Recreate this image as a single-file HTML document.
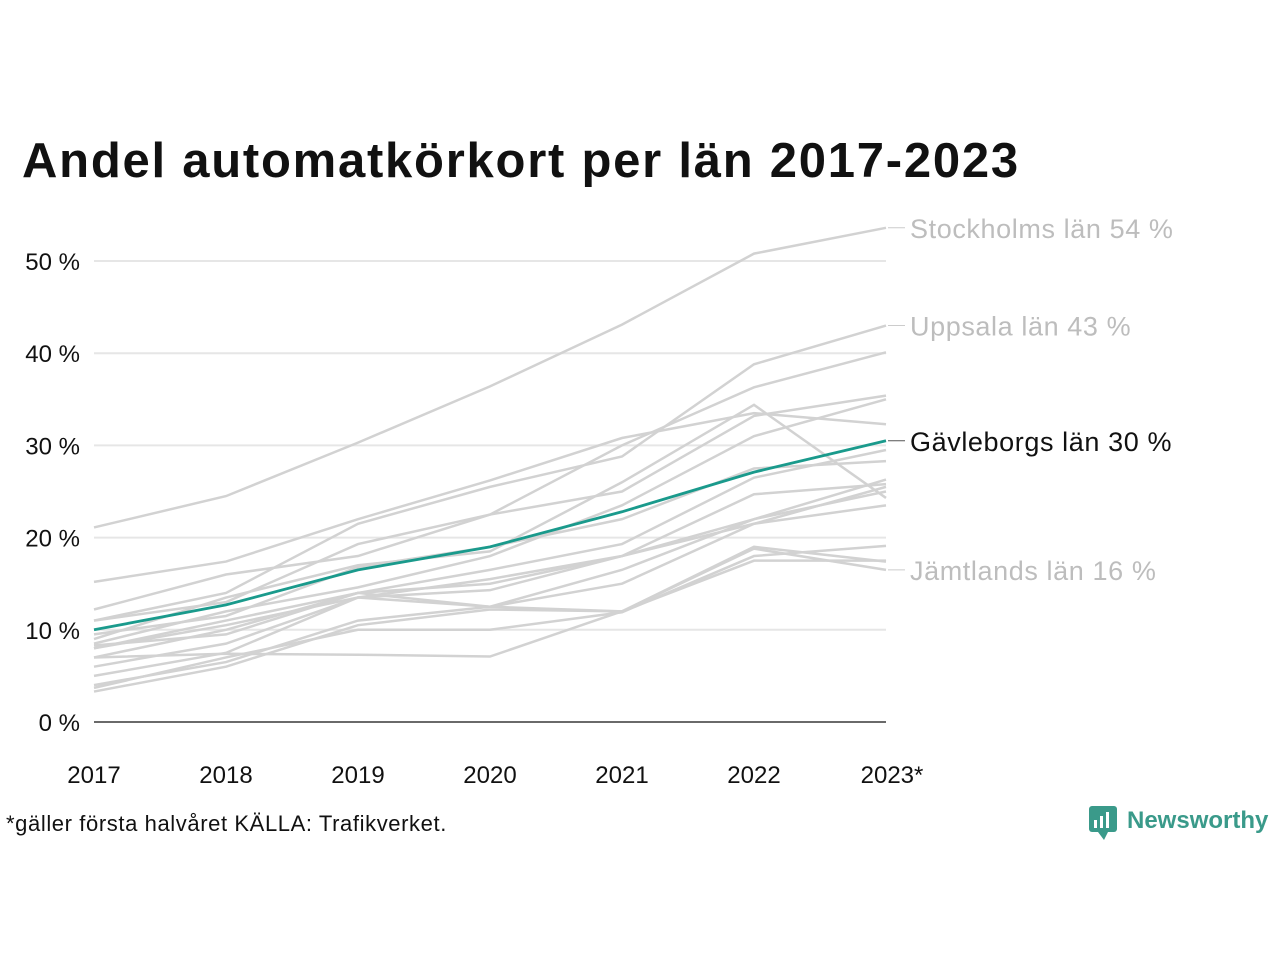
<!DOCTYPE html>
<html><head><meta charset="utf-8">
<style>
body{margin:0;background:#fff;width:1280px;height:960px;overflow:hidden;font-family:"Liberation Sans",sans-serif;}
svg text{font-family:"Liberation Sans",sans-serif;}
</style></head>
<body>
<svg id="chart" width="1280" height="960" xmlns="http://www.w3.org/2000/svg">
<text x="22" y="177" font-size="49" font-weight="bold" letter-spacing="1.75" fill="#111">Andel automatkörkort per län 2017-2023</text>
<g id="grid"></g>
<g id="lines"></g>
<g id="labels"></g>
<text x="6" y="831" font-size="22" letter-spacing="0.6" fill="#111">*gäller första halvåret KÄLLA: Trafikverket.</text>
<g>
<rect x="1089" y="806" width="28" height="26" rx="3" fill="#3a9a8a"/>
<polygon points="1098,832 1104,840 1108,832" fill="#3a9a8a"/>
<rect x="1094" y="820" width="3" height="8" fill="#fff"/><rect x="1100" y="816" width="3" height="12" fill="#fff"/><rect x="1106" y="812" width="3" height="16" fill="#fff"/>
<text x="1127" y="828" font-size="24" font-weight="bold" fill="#3a9a8a">Newsworthy</text>
</g>
</svg>
<script>
const years=["2017","2018","2019","2020","2021","2022","2023*"];
const yTicks=[0,10,20,30,40,50];
const stockholm=[21.1,24.5,30.3,36.4,43.1,50.8,53.6];
const uppsala=[11,14,21.5,25.5,28.8,38.8,43];
const gavleborg=[10,12.7,16.5,19,22.8,27.1,30.5];
const jamtland=[7,7.4,7.3,7.1,12,18.8,16.5];
const other1=[12.2,16,18,22.5,30,36.3,40.1];
const other2=[15.2,17.4,22,26.2,30.8,33.5,32.3];
const other3=[9,13.5,17,18.5,26,34.4,24.3];
const other4=[11,13,19.3,22.5,25,33.2,35.4];
const other5=[8.5,12,14.6,18,23.5,31,35];
const other6=[9.5,11.5,16.8,19,22,27.5,28.3];
const other7=[8,11,14,16.5,19.3,26.5,29.5];
const other8=[8,10.5,13.5,15.5,18,24.7,25.8];
const other9=[7,10,14,15,18,22,26.3];
const other10=[6,8.5,13.5,14.3,18,21.5,25.5];
const other11=[5,7.5,13.5,12.5,16.5,22,25];
const other12=[4,6.5,11,12.5,15,21.5,23.5];
const other13=[3.7,7,10,10,11.9,18,19.1];
const other14=[3.3,6,10.5,12.2,12,19,17.4];
const other15=[8.3,9.5,14,12.5,12,17.5,17.5];
const others=[other1,other2,other3,other4,other5,other6,other7,other8,other9,other10,other11,other12,other13,other14,other15,stockholm,uppsala,jamtland];
const labelled=[["Stockholms län 54 %",stockholm,"#bdbdbd"],["Uppsala län 43 %",uppsala,"#bdbdbd"],["Gävleborgs län 30 %",gavleborg,"#111"],["Jämtlands län 16 %",jamtland,"#bdbdbd"]];
const NS="http://www.w3.org/2000/svg";
const x=i=>94+i*132;
const y=v=>722-v*9.22;
function mk(tag,attrs,parent){const e=document.createElementNS(NS,tag);for(const k in attrs)e.setAttribute(k,attrs[k]);parent.appendChild(e);return e;}
const grid=document.getElementById('grid'),lines=document.getElementById('lines'),labels=document.getElementById('labels');
yTicks.forEach(t=>{
  const l=mk('line',{x1:94,x2:886,y1:y(t),y2:y(t),stroke:t===0?'#111':'#e6e6e6','stroke-width':t===0?1.2:2},grid);
  
  
  const tx=mk('text',{x:80,y:y(t)+9,'font-size':24,'text-anchor':'end',fill:'#111'},grid);
  tx.textContent=t+' %';
  
  
});
years.forEach((yr,i)=>{
  const tx=mk('text',{x:x(i)+(i===6?6:0),y:783,'font-size':24,'text-anchor':'middle',fill:'#111'},grid);
  tx.textContent=yr;
  
  
});
const pts=s=>s.map((v,i)=>x(i)+','+y(v)).join(' ');
others.forEach(s=>{
  const p=mk('polyline',{points:pts(s),fill:'none',stroke:'#d2d2d2','stroke-width':2.5},lines);
  
  
});
const g=mk('polyline',{points:pts(gavleborg),fill:'none',stroke:'#1a9a8c','stroke-width':2.8},lines);


labelled.forEach(([txt,s,c])=>{
  const yy=y(s[6]);
  mk('line',{x1:888,x2:905,y1:yy,y2:yy,stroke:c==='#111'?'#555':'#ccc','stroke-width':1},labels);
  const t=mk('text',{x:910,y:yy+10,'font-size':27,'letter-spacing':0.6,fill:c},labels);
  t.textContent=txt;
  
  
});
</script>
</body></html>
